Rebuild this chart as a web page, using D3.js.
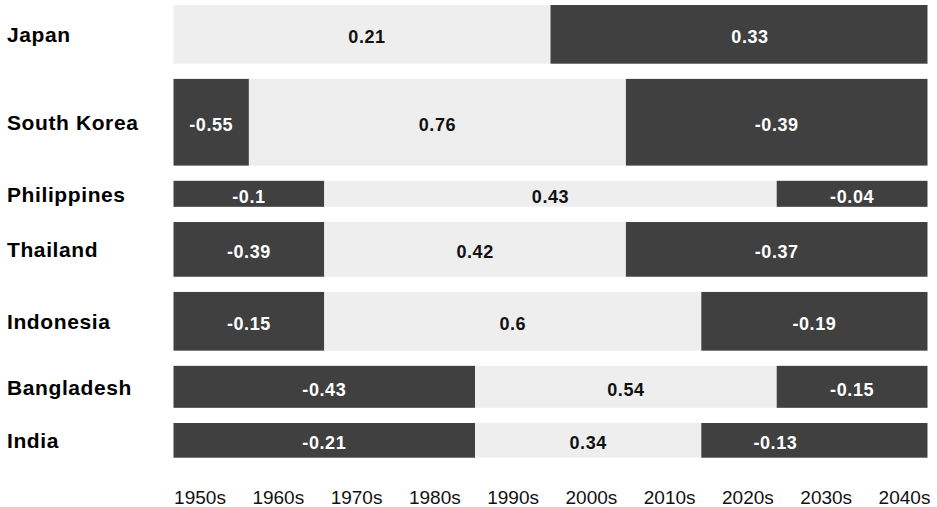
<!DOCTYPE html>
<html>
<head>
<meta charset="utf-8">
<script src="https://cdn.jsdelivr.net/npm/d3@7"></script>
<style>
  html, body { margin: 0; padding: 0; background: #ffffff; }
  svg { display: block; font-family: "Liberation Sans", Arial, Helvetica, sans-serif; }
</style>
</head>
<body>
<svg id="chart" width="937" height="507"></svg>
<script>
// Countries, top to bottom
const countries = ["Japan", "South Korea", "Philippines", "Thailand", "Indonesia", "Bangladesh", "India"];

// Decade tick labels along the bottom
const decadeLabels = ["1950s", "1960s", "1970s", "1980s", "1990s", "2000s", "2010s", "2020s", "2030s", "2040s"];

// Relative thickness of each country's band
const rowWeight = [0.677, 1.0, 0.30, 0.631, 0.677, 0.484, 0.40];

// Years where each country's phase changes (the span runs 1950 to 2050)
const phaseBreaks = [
  [2000],
  [1960, 2010],
  [1970, 2030],
  [1970, 2010],
  [1970, 2020],
  [1990, 2030],
  [1990, 2020]
];

// Value of each phase segment
const segmentValues = [
  [0.21, 0.33],
  [-0.55, 0.76, -0.39],
  [-0.1, 0.43, -0.04],
  [-0.39, 0.42, -0.37],
  [-0.15, 0.6, -0.19],
  [-0.43, 0.54, -0.15],
  [-0.21, 0.34, -0.13]
];

// Phase of each segment
const segmentPhases = [
  ["window", "after"],
  ["before", "window", "after"],
  ["before", "window", "after"],
  ["before", "window", "after"],
  ["before", "window", "after"],
  ["before", "window", "after"],
  ["before", "window", "after"]
];

const startYear = 1950, endYear = 2050;

// ---- layout ----
const svg = d3.select("#chart");
const plotLeft = 173.5, plotRight = 927.5, plotTop = 5, plotBottom = 457.7, rowGap = 15.2;

const x = d3.scaleLinear().domain([startYear, endYear]).range([plotLeft, plotRight]);

const totalWeight = d3.sum(rowWeight);
const thickness = d3.scaleLinear()
  .domain([0, totalWeight])
  .range([0, (plotBottom - plotTop) - rowGap * (countries.length - 1)]);

const rows = [];
let cursor = plotTop;
countries.forEach((name, i) => {
  const h = thickness(rowWeight[i]);
  const edges = [startYear, ...phaseBreaks[i], endYear];
  const segs = segmentValues[i].map((v, j) => ({
    country: name, index: j, value: v, phase: segmentPhases[i][j],
    x0: edges[j], x1: edges[j + 1]
  }));
  rows.push({ name, y: cursor, h, segs });
  cursor += h + rowGap;
});

const fillColor = d3.scaleOrdinal()
  .domain(["before", "window", "after"])
  .range(["#404040", "#eeeeee", "#404040"]);
const textColor = d3.scaleOrdinal()
  .domain(["before", "window", "after"])
  .range(["#ffffff", "#111111", "#ffffff"]);

// small label offsets for readability
const labelNudge = { "Japan-0": 5, "Japan-1": 11, "India-2": -39 };

const rowG = svg.append("g").selectAll("g.row")
  .data(rows).join("g")
  .attr("class", "row")
  .attr("transform", d => `translate(0,${d.y})`);

rowG.selectAll("rect")
  .data(d => d.segs.map(s => ({ ...s, h: d.h })))
  .join("rect")
  .attr("x", s => x(s.x0))
  .attr("width", s => x(s.x1) - x(s.x0))
  .attr("y", 0)
  .attr("height", s => s.h)
  .attr("fill", s => fillColor(s.phase));

rowG.selectAll("text.value")
  .data(d => d.segs.map(s => ({ ...s, h: d.h })))
  .join("text")
  .attr("class", "value")
  .attr("x", s => (x(s.x0) + x(s.x1)) / 2 + (labelNudge[`${s.country}-${s.index}`] || 0))
  .attr("y", s => s.h / 2 + 9)
  .attr("text-anchor", "middle")
  .attr("font-size", 18)
  .attr("font-weight", "bold")
  .attr("letter-spacing", 0.6)
  .attr("fill", s => textColor(s.phase))
  .text(s => String(s.value));

// country names
rowG.append("text")
  .attr("x", 7)
  .attr("y", d => d.h / 2 + 8)
  .attr("font-size", 21)
  .attr("font-weight", "bold")
  .attr("letter-spacing", 0.6)
  .attr("fill", "#000000")
  .text(d => d.name);

// decade axis
const xTicks = d3.scalePoint().domain(decadeLabels).range([199.5, 904]);
const axis = d3.axisBottom(xTicks).tickSize(0).tickPadding(0);
const axisG = svg.append("g")
  .attr("transform", "translate(0,504)")
  .call(axis);
axisG.select(".domain").remove();
axisG.selectAll("text")
  .attr("font-family", "\"Liberation Sans\", Arial, sans-serif")
  .attr("font-size", 19)
  .attr("fill", "#111111")
  .attr("y", 0)
  .attr("dy", 0);
</script>
</body>
</html>
